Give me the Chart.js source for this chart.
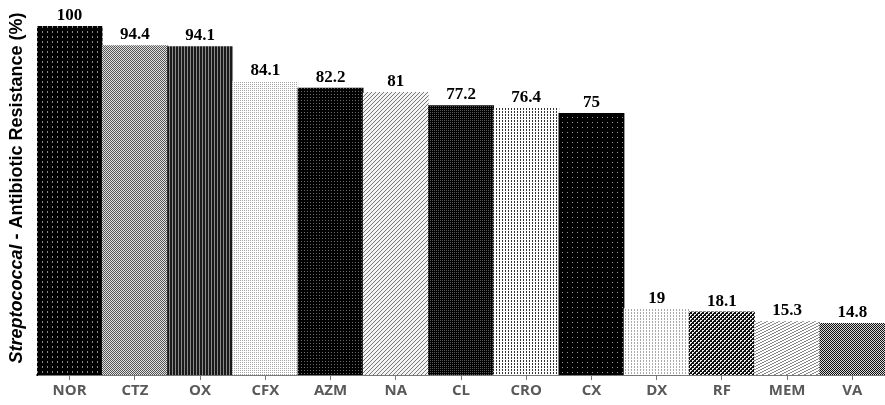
<!DOCTYPE html>
<html>
<head>
<meta charset="utf-8">
<script src="https://cdn.jsdelivr.net/npm/chart.js@4/dist/chart.umd.min.js"></script>
<style>
  body { margin: 0; background: #fff; }
  #wrap { width: 885px; height: 405px; position: relative; }
</style>
</head>
<body>
<div id="wrap"><canvas id="chart"></canvas></div>
<script>
// antibiotics and resistance (%)
const drugs = ['NOR', 'CTZ', 'OX', 'CFX', 'AZM', 'NA', 'CL', 'CRO', 'CX', 'DX', 'RF', 'MEM', 'VA'];
const resistance = [100, 94.4, 94.1, 84.1, 82.2, 81, 77.2, 76.4, 75, 19, 18.1, 15.3, 14.8];
const yMin = 0;
const yMax = 100;

// small pixel tiles used as bar fills
function makePattern(w, h, bg, fg, cells) {
    const c = document.createElement('canvas');
    c.width = w; c.height = h;
    const g = c.getContext('2d');
    g.fillStyle = bg;
    g.fillRect(0, 0, w, h);
    g.fillStyle = fg;
    cells.forEach(p => g.fillRect(p[0], p[1], 1, 1));
    return g.createPattern(c, 'repeat');
}

const fills = [
    makePattern(5, 5, '#000', '#8a8a8a', [[2, 1], [2, 2]]),                 // NOR
    makePattern(2, 2, '#e0e0e0', '#555', [[0, 0], [1, 1]]),                 // CTZ
    makePattern(3, 2, '#1a1a1a', '#8a8a8a', [[1, 0], [1, 1]]),              // OX
    makePattern(2, 2, '#fff', '#a5a5a5', [[0, 0]]),                          // CFX
    makePattern(3, 3, '#000', '#6a6a6a', [[1, 1]]),                          // AZM
    makePattern(4, 4, '#f4f4f4', '#777', [[0, 3], [1, 2], [2, 1], [3, 0]]), // NA
    makePattern(2, 2, '#000', '#5a5a5a', [[0, 0]]),                          // CL
    makePattern(3, 3, '#fff', '#333', [[1, 0], [1, 1]]),                     // CRO
    makePattern(5, 5, '#000', '#9a9a9a', [[2, 2]]),                          // CX
    makePattern(3, 3, '#fff', '#aaa', [[1, 0], [1, 1]]),                     // DX
    makePattern(4, 4, '#111', '#f0f0f0', [[0, 0], [1, 0], [0, 1], [2, 2], [3, 2], [2, 3]]), // RF
    makePattern(6, 3, '#fff', '#8a8a8a', [[0, 2], [1, 2], [2, 1], [3, 1], [4, 0], [5, 0]]), // MEM
    makePattern(2, 2, '#d8d8d8', '#111', [[0, 0], [1, 1]])                  // VA
];

const valueLabels = {
    id: 'valueLabels',
    afterDatasetsDraw(chart) {
        const ctx = chart.ctx;
        const meta = chart.getDatasetMeta(0);
        ctx.save();
        ctx.font = 'bold 17px "Liberation Serif", serif';
        ctx.fillStyle = '#000';
        ctx.textAlign = 'center';
        ctx.textBaseline = 'bottom';
        meta.data.forEach((bar, i) => {
            ctx.fillText(String(resistance[i]), bar.x, bar.y - 2);
        });
        ctx.restore();
    }
};

// y title with italic genus name
const yTitle = {
    id: 'yTitle',
    afterDraw(chart) {
        const ctx = chart.ctx;
        const first = 'Streptococcal';
        const rest = ' - Antibiotic Resistance (%)';
        const f1 = 'italic bold 18px "Liberation Sans", Arial, sans-serif';
        const f2 = 'bold 18px "Liberation Sans", Arial, sans-serif';
        ctx.save();
        ctx.translate(17, 188);
        ctx.rotate(-Math.PI / 2);
        ctx.textBaseline = 'middle';
        ctx.fillStyle = '#000';
        ctx.font = f1;
        const w1 = ctx.measureText(first).width;
        ctx.font = f2;
        const w2 = ctx.measureText(rest).width;
        const x = -(w1 + w2) / 2;
        ctx.font = f1;
        ctx.fillText(first, x, 0);
        ctx.font = f2;
        ctx.fillText(rest, x + w1, 0);
        ctx.restore();
    }
};

new Chart(document.getElementById('chart'), {
    type: 'bar',
    data: {
        labels: drugs,
        datasets: [{
            data: resistance,
            backgroundColor: fills,
            borderWidth: 0,
            barPercentage: 1,
            categoryPercentage: 1
        }]
    },
    options: {
        responsive: true,
        maintainAspectRatio: false,
        animation: false,
        layout: { padding: { left: 37, top: 26, right: 0, bottom: 3 } },
        plugins: {
            legend: { display: false },
            tooltip: { enabled: false }
        },
        scales: {
            x: {
                grid: {
                    display: true,
                    drawOnChartArea: false,
                    drawTicks: true,
                    tickLength: 5,
                    offset: false,
                    color: '#777'
                },
                border: { display: true, color: '#777', width: 2 },
                ticks: {
                    color: '#595959',
                    font: { family: '"Open Sans", sans-serif', size: 15, weight: 'bold' },
                    padding: 2
                }
            },
            y: {
                min: yMin,
                max: yMax,
                grid: { display: false, drawTicks: false },
                border: { display: true, color: '#000', width: 1 },
                ticks: { display: false }
            }
        }
    },
    plugins: [valueLabels, yTitle]
});
</script>
</body>
</html>
